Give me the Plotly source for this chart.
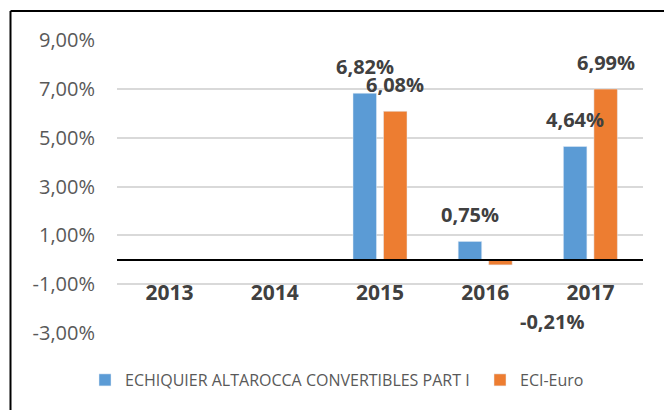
import plotly.graph_objects as go

categories = ["2013", "2014", "2015", "2016", "2017"]
fund_name = "ECHIQUIER ALTAROCCA CONVERTIBLES PART I"
bench_name = "ECI-Euro"
fund_values = [None, None, 6.82, 0.75, 4.64]
bench_values = [None, None, 6.08, -0.21, 6.99]
y_ticks = [-3, -1, 1, 3, 5, 7, 9]

BLUE = "#5B9BD5"
ORANGE = "#ED7D31"
LABEL = "#404040"
FONT = "Open Sans"

W, H = 664, 410
ML, MR, MT, MB = 117, 21, 40, 77
YMIN, YMAX = -3, 9
BARGAP = 0.42
GROUPGAP = 0.23


def fmt(v):
    return f"{v:.2f}".replace(".", ",") + "%"


y_ticktext = [fmt(v) for v in y_ticks]

fig = go.Figure()
fig.add_trace(go.Bar(x=categories, y=fund_values, name=fund_name, marker_color=BLUE,
                     legendwidth=350))
fig.add_trace(go.Bar(x=categories, y=bench_values, name=bench_name, marker_color=ORANGE))

offset = (1 - BARGAP) / 4

annotations = []
for series, sign in ((fund_values, -1), (bench_values, 1)):
    for i, v in enumerate(series):
        if v is None:
            continue
        if v >= 0:
            annotations.append(dict(x=i + sign * offset, y=v, xref="x", yref="y",
                                    text=fmt(v), showarrow=False, yanchor="bottom",
                                    yshift=11, font=dict(family=FONT, size=20, color=LABEL,
                                                         weight="bold")))
        else:
            annotations.append(dict(x=i + sign * offset, y=v, xref="x", yref="y",
                                    text=fmt(v), showarrow=False, yanchor="top",
                                    xshift=52, yshift=-41,
                                    font=dict(family=FONT, size=20, color=LABEL,
                                              weight="bold")))

pw = W - ML - MR
ph = H - MT - MB


def px_x(p):
    return (p - ML) / pw


def px_y(p):
    return (H - MB - p) / ph


shapes = [
    dict(type="line", xref="paper", yref="paper", x0=px_x(10.5), x1=px_x(670),
         y0=px_y(11), y1=px_y(11), line=dict(color="black", width=2)),
    dict(type="line", xref="paper", yref="paper", x0=px_x(10.5), x1=px_x(10.5),
         y0=px_y(11), y1=px_y(420), line=dict(color="black", width=2)),
]

fig.update_layout(
    width=W, height=H,
    margin=dict(l=ML, r=MR, t=MT, b=MB, autoexpand=False),
    paper_bgcolor="white", plot_bgcolor="white",
    barmode="group", bargap=BARGAP, bargroupgap=GROUPGAP,
    separators=",.",
    font=dict(family=FONT, color="#595959"),
    annotations=annotations,
    shapes=shapes,
    legend=dict(orientation="h", x=(337 - ML) / pw, xanchor="center",
                yref="container", y=1 - 380 / H, yanchor="middle",
                font=dict(family=FONT, size=16, color="#595959"),
                itemclick=False),
    xaxis=dict(type="category", anchor="free", position=(0 - YMIN) / (YMAX - YMIN),
               showline=True, linecolor="black", linewidth=1.5, showgrid=False,
               ticks="", ticklabelstandoff=14, automargin=False,
               tickfont=dict(family=FONT, size=21, color=LABEL, weight="bold")),
    yaxis=dict(range=[YMIN, YMAX], tickmode="array", tickvals=y_ticks,
               ticktext=y_ticktext, showgrid=True, automargin=False,
               gridcolor="#D9D9D9", gridwidth=1.5, zeroline=False,
               ticklabelstandoff=21,
               tickfont=dict(family=FONT, size=20, color="#595959")),
)

fig.write_html("out.html", config={"displayModeBar": False},
               post_script="document.body.style.margin='0';")
